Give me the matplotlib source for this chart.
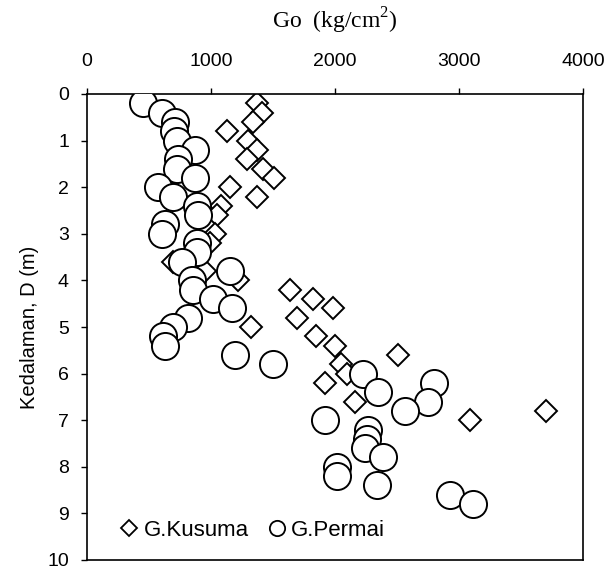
import matplotlib
matplotlib.use("Agg")
import matplotlib.pyplot as plt
from matplotlib.lines import Line2D

# G.Kusuma (diamonds)
kusuma_depth = [0.2, 0.4, 0.6, 0.8, 1.0, 1.2, 1.4, 1.6, 1.8, 2.0, 2.2, 2.4, 2.6,
                3.0, 3.2, 3.6, 3.8, 4.0, 4.2, 4.4, 4.6, 4.8, 5.0, 5.2, 5.4, 5.6,
                5.8, 6.0, 6.2, 6.6, 6.8, 7.0]
kusuma_go = [1370, 1410, 1340, 1130, 1300, 1370, 1290, 1420, 1510, 1150, 1370, 1080, 1050,
             1030, 990, 690, 950, 1220, 1640, 1820, 1980, 1690, 1320, 1850, 2000, 2510,
             2050, 2100, 1920, 2160, 3700, 3090]

# G.Permai (circles)
permai_depth = [0.2, 0.4, 0.6, 0.8, 1.0, 1.2, 1.4, 1.6, 1.8, 2.0, 2.2, 2.4, 2.6, 2.8,
                3.0, 3.2, 3.4, 3.6, 3.8, 4.0, 4.2, 4.4, 4.6, 4.8, 5.0, 5.2, 5.4, 5.6,
                5.8, 6.0, 6.2, 6.4, 6.6, 6.8, 7.0, 7.2, 7.4, 7.6, 7.8, 8.0, 8.2, 8.4,
                8.6, 8.8]
permai_go = [454, 602, 710, 702, 723, 871, 736, 723, 871, 575, 696, 884, 898, 629,
             602, 884, 884, 763, 1153, 844, 852, 1019, 1167, 817, 696, 616, 629, 1194,
             1500, 2223, 2798, 2349, 2752, 2565, 1919, 2269, 2255, 2242, 2384, 2016, 2016, 2336,
             2927, 3110]

x_ticks = [0, 1000, 2000, 3000, 4000]
y_ticks = list(range(0, 11))

plt.rcParams['font.family'] = ['Liberation Sans', 'DejaVu Sans']
plt.rcParams['mathtext.fontset'] = 'custom'
plt.rcParams['mathtext.rm'] = 'Liberation Serif'

fig = plt.figure(figsize=(6.08, 5.67), dpi=100)
ax = fig.add_axes([87/608, 1 - 560/567, (583-87)/608, (560-94)/567])

ax.plot(kusuma_go, kusuma_depth, linestyle='none', marker='D', markersize=11,
        markerfacecolor='white', markeredgecolor='black', markeredgewidth=1.4, zorder=2)
ax.plot(permai_go, permai_depth, linestyle='none', marker='o', markersize=19.5,
        markerfacecolor='white', markeredgecolor='black', markeredgewidth=1.4, zorder=3)

ax.set_xlim(0, 4000)
ax.set_ylim(10, 0)
ax.xaxis.tick_top()
ax.set_xticks(x_ticks)
ax.set_yticks(y_ticks)
ax.tick_params(axis='both', direction='out', length=4, width=1, labelsize=14, colors='black')
ax.tick_params(axis='x', pad=13)
ax.tick_params(axis='y', pad=9)
for s in ax.spines.values():
    s.set_linewidth(1.2)

ax.set_ylabel('Kedalaman, D (m)', fontsize=14.5)
ax.yaxis.set_label_coords((39 - 87) / 496, 0.5)
fig.text(335/608, 1 - 21/567, r'Go  (kg/cm$^{2}$)', family='Liberation Serif',
         fontsize=17, ha='center', va='center')

h1 = Line2D([], [], linestyle='none', marker='D', markersize=8,
            markerfacecolor='white', markeredgecolor='black', markeredgewidth=1.3)
h2 = Line2D([], [], linestyle='none', marker='o', markersize=11,
            markerfacecolor='white', markeredgecolor='black', markeredgewidth=1.3)
ax.legend([h1, h2], ['G.Kusuma', 'G.Permai'], ncol=2, frameon=False,
          loc='lower left', bbox_to_anchor=(0.052, 0.022), fontsize=16,
          handlelength=0.7, handletextpad=0.3, columnspacing=0.9, borderaxespad=0)

fig.savefig('out.png', dpi=100)
